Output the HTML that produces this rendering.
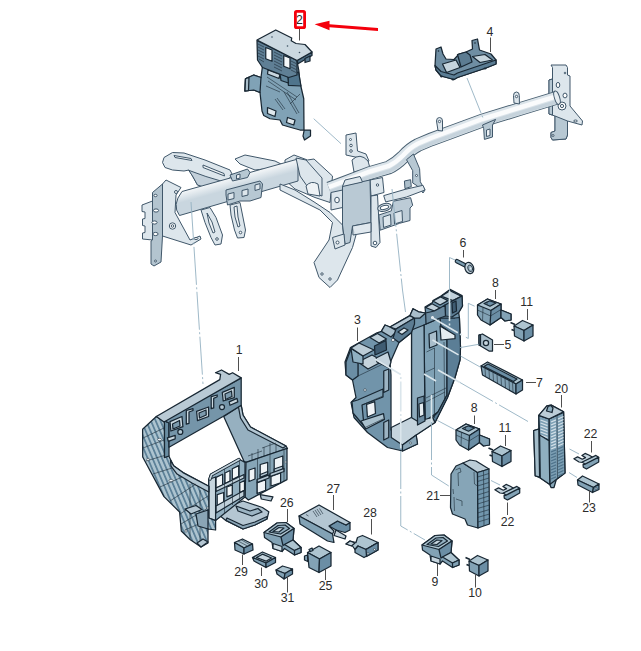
<!DOCTYPE html>
<html><head><meta charset="utf-8">
<style>
html,body{margin:0;padding:0;background:#fff;}
svg{display:block;}
text{font-family:"Liberation Sans",sans-serif;font-size:12.3px;fill:#2b2b2b;text-anchor:middle;}
.fo{stroke:#40576a;stroke-width:1;stroke-linejoin:round;}
.f1{fill:#dde6ec;}
.f2{fill:#b7c8d3;}
.f3{fill:#eef2f5;}
.o{stroke:#182733;stroke-width:1.25;stroke-linejoin:round;}
.d1{fill:#82a2b5;}
.d2{fill:#6b8ea5;}
.d3{fill:#adc4d0;}
.d4{fill:#c6d5de;}
.t{stroke:#1c2b37;stroke-width:.6;fill:none;}
.ld{stroke:#4f4f4f;stroke-width:1;fill:none;}
.dl{stroke:#94b1c2;stroke-width:.9;fill:none;stroke-dasharray:38 2.5 2 2.5;}
.wl{stroke:#dbe6ec;stroke-width:1.6;fill:none;stroke-dasharray:30 2.5 2 2.5;}
</style></head>
<body>
<svg width="641" height="651" viewBox="0 0 641 651">
<rect width="641" height="651" fill="#fff"/>
<defs>
<linearGradient id="gt" gradientUnits="userSpaceOnUse" x1="236" y1="164" x2="242" y2="186">
<stop offset="0" stop-color="#cfdbe3"/><stop offset=".35" stop-color="#fbfcfd"/><stop offset=".6" stop-color="#eef2f5"/><stop offset="1" stop-color="#c9d6df"/>
</linearGradient>
<pattern id="hz" width="4.400" height="8" patternUnits="userSpaceOnUse" patternTransform="rotate(-23)"><rect width="4.400" height="8" fill="#adc4d0"/><rect width="1.800" height="8" fill="#5d8198"/></pattern>
</defs>
<!--FRAME-->
<g id="frame">
<!-- upper arms -->
<path class="fo f1" d="M164 157.5L172.5 152.5L184 153L205 160L230 170L232.5 175L227.5 180L215 184L205 187.5L197.5 185L192.5 176L189 170L184 171L172.5 170L165 167.5L162.5 162.5Z"/>
<path class="fo" fill="#c3d0da" d="M188.700 170.300L205.900 176.500L221.500 181.200L216.800 183.500L205 187.500L197.500 185L192.500 176Z"/>
<path class="fo f3" d="M174 155.5L191 158.5L192 160.5L175 157.5Z M203 165L224 173.5L224.5 176L203 167.5Z"/>
<path class="fo f1" d="M235 159L245 155L275 161L283 165L272 168L255 170L240 164Z"/>
<!-- left end bracket -->
<path class="fo f1" d="M142 205L152.5 201L152.5 240L142.5 239L142.5 233L145 232.5L145 226L142.5 225.5L142.5 219L145 218.5L145 212L142 211.5Z"/>
<path class="fo f1" d="M162.5 184L166 180L171 182.5L181 187.5L176 195L175 212.5L190 240L200 236L201 239L191 245L162.5 236Z"/>
<path class="fo" fill="#b3c4cf" d="M152.5 192.5L162.5 184L162.5 236L161 262L154 266L151 264L151 241L152.5 240Z"/>
<g class="fo" fill="#fff"><ellipse cx="155.5" cy="195.5" rx="1.6" ry="1.2"/><ellipse cx="156" cy="210.5" rx="2.6" ry="1.6"/><ellipse cx="154.5" cy="222.5" rx="2.6" ry="1.6"/><ellipse cx="155.5" cy="234" rx="2.6" ry="1.6"/><circle cx="155.5" cy="261" r="1"/><circle cx="176" cy="192" r="1.5"/><circle cx="172.5" cy="226" r="3.2"/><circle cx="172.5" cy="226" r="1.3"/><ellipse cx="196" cy="238.5" rx="2" ry="1"/></g>
<!-- hangers -->
<path class="fo f1" d="M201 210L210 207.5L216 217.5L222.5 235L221 244L215 245L211 237.5L205 222.5Z"/>
<path class="fo f3" d="M207 213L212 222L215 232L213 233L209 223Z"/><circle class="fo" fill="#fff" cx="217" cy="239" r="1.3"/>
<path class="fo f1" d="M230 205L240 202.5L242.5 215L245.5 230L244 237.5L237.5 238L234.5 230L231 215Z"/>
<path class="fo f3" d="M234 207L237 206L238 217L240 226L238 227L235 217Z"/><circle class="fo" fill="#fff" cx="240.5" cy="232.5" r="1.3"/>
<!-- central casting -->
<path class="fo f1" d="M285 160L294 155L307.5 160L314 159L332.5 176L331 192.5L330 202.5L315 197.5L295 189L285 180Z"/>
<!-- left tube -->
<path class="fo" fill="url(#gt)" d="M182 191.500L298 159L298 181L179.500 215.500Q171.500 205 182 191.500Z"/>
<!-- small clip on top -->
<path class="fo f2" d="M230 175L247.5 169L250 172.5L247.5 177.5L232.5 181Z"/>
<path class="fo f3" d="M236.500 175L240 174L240 178L236.500 179Z"/>
<!-- clamp -->
<path class="fo f2" d="M226 190L260 181L262.5 184L261 197.5L250 201L240 201L227.5 205L226 195Z"/>
<path class="fo f1" d="M228 194L234 192.5L234 198.5L228 200Z M242 190.500L248 189L248 195L242 196.500Z M255 185L260 183.600L260 189L255 190.500Z"/>
<!-- big leg -->
<path class="fo f1" d="M280 184L295 190L315 202.5L330 212.5L342.5 225L344 240L352.5 229L356 235L352.5 247.5L337.5 280L330 287.5L319 277.5L314 262.5L329 240L332.500 222.500L320 210L295 197.500L280 190Z"/>
<!-- casting details -->
<path class="fo f1" d="M296 158L306 160L322 178L322 196L312 193L300 176Z"/>
<path class="fo f3" d="M306 186Q311 180 318 184L320 196L308 194Z"/>
<!-- upper tab -->
<path class="fo f1" d="M346 135L356 133L357.5 151L366 154L369 161L365 165L357.5 157.500L346 155Z"/>
<g class="fo" fill="#fff"><circle cx="350.500" cy="139.500" r="1"/><circle cx="351" cy="145.500" r="1.300"/><circle cx="351" cy="151" r="1.300"/></g>
<path class="fo f1" d="M352 160Q360 152 368 161L370 168L354 172Z"/>
<!-- right end bracket -->
<path class="fo f1" d="M551 65L566 65L567.500 67.500L567.500 75L570 76L570 106L582.500 121L582 125L567.500 121L567.500 135L566 139L552.500 140L551 137.500L551 132.500L555 131L555 116L549 114L549 80L552.500 79L552.500 67.500Z"/>
<path class="fo f2" d="M555 116L567.500 121L567.500 135L566 139L552.500 140L551 137.500L551 132.500L555 131Z"/>
<path class="fo f2" d="M549 80L552.500 79L552.500 115L549 114Z"/>
<g class="fo" fill="#fff"><ellipse cx="558" cy="85" rx="1.800" ry="2.600"/><ellipse cx="565" cy="95.500" rx="2" ry="2.400"/><circle cx="562" cy="106" r="4"/><circle cx="562" cy="106" r="1.600"/><ellipse cx="575.500" cy="121" rx="1.800" ry="1"/><circle cx="553" cy="135.500" r="1"/><circle cx="565" cy="73" r=".800"/></g>
<!-- right tube -->
<path d="M329 188.500L345 182.500L370 173L388.700 167.500Q396 164 403 157Q410 149 418 145L431 139.500L450 132.500L482.500 120.500L520 109L556 98" fill="none" stroke="#4a6172" stroke-width="13.800"/>
<path d="M329 188.500L345 182.500L370 173L388.700 167.500Q396 164 403 157Q410 149 418 145L431 139.500L450 132.500L482.500 120.500L520 109L557 97.700" fill="none" stroke="#dbe4ea" stroke-width="12"/>
<path d="M330 192L346 186L371 176.500L389.700 171Q397 167.500 404 160.500Q411 152.500 419 148.500L432 143L451 136L483.500 124L521 112.500L558 101.200" fill="none" stroke="#c6d3dc" stroke-width="3.600"/>
<path d="M329 187L345 181L370 171.500L388.700 166Q396 162.500 403 155.500Q410 147.500 418 143.500L431 138L450 131L482.500 119L520 107.500L557 96.200" fill="none" stroke="#fafbfc" stroke-width="4.500"/>
<ellipse class="fo" fill="#e6edf1" cx="557" cy="97.700" rx="2.600" ry="6.900" transform="rotate(-17 557 97.700)"/>
<!-- tabs on tube -->
<path class="fo f1" d="M436.500 121Q436.500 117.500 439.500 117.500Q442.500 117.500 442.500 121L442.500 131L438 130.500Z"/><circle class="fo" fill="#fff" cx="439.500" cy="121.500" r="1.200"/>
<path class="fo f1" d="M513.500 95.500Q513.500 92 516.500 92Q519.300 92 519.300 95.500L519.400 104L514 103Z"/><circle class="fo" fill="#fff" cx="516.500" cy="96.500" r="1.200"/>
<path class="fo f2" d="M482.500 125L495.600 119.400L492.500 125L492.500 137L484.400 139.400L483.700 128.700Z"/>
<path class="fo f3" d="M486.500 130L490 129L490 135.500L486.500 136.500Z"/>
<!-- strap -->
<path class="fo f2" d="M406.500 159.700L413.400 154L419.600 168.700L420.300 181.800L425 190L423 193L417.500 186L412.700 183L412.700 170.700Z"/>
<circle class="fo" fill="#fff" cx="416.500" cy="175.500" r="1"/>
<!-- central plates -->
<path class="fo f1" d="M331 192.500L342.500 190L342.500 207.500L331 210Z"/><ellipse class="fo" fill="#f4f7f9" cx="337" cy="200" rx="2.300" ry="2.800"/>
<path class="fo f1" d="M370 180L382.500 177.500L384 192.500L371 196Z"/><circle class="fo" fill="#fff" cx="377.500" cy="185" r="1.200"/>
<path class="fo" fill="#b9c9d4" d="M342.500 186L370 180L371 222.500L352.500 226L350 242.500L345 244L342.500 225Z"/>
<path class="fo f1" d="M345 180L360 176.500L362.500 182L342.500 186.500Z"/>
<path class="fo f1" d="M332.500 237.500L344 234L345 245L335 249Z"/><circle class="fo" fill="#fff" cx="337.500" cy="242.500" r="1.500"/>
<path class="fo f1" d="M371 196L377.500 195L380 242.500L376 247.500L371 246Z"/><circle class="fo" fill="#fff" cx="375" cy="243" r="1.800"/>
<path class="fo f1" d="M352.500 226L371 222.500L371 232L353 235Z" fill-opacity=".9"/>
<g class="fo" fill="#fff"><circle cx="322" cy="274" r="1.200"/><circle cx="330" cy="279" r="1.200"/></g>
<!-- right sub bracket -->
<path class="fo" fill="#bccbd6" d="M393.400 201.200L410.600 197.700L412.700 205.300L410 208L410 220.500L399.600 223.300L380.200 230.200L378.800 215L391.300 210.900Z"/>
<path class="fo f1" d="M383 217L390.500 214.500L391 225L383.500 227.500Z M394 213L402 210.500L402.500 221.500L394.500 224Z"/>
<path class="fo f1" d="M383.700 195.600L405 189.400L423 185.300L425 190L406.500 197L385.700 201.900Z"/>
<ellipse class="fo f1" cx="384.500" cy="207.400" rx="7" ry="3.800" transform="rotate(-15 384.500 207.400)"/><ellipse class="fo" fill="#fff" cx="384.500" cy="207.400" rx="4.300" ry="1.900" transform="rotate(-15 384.500 207.400)"/>
<path class="fo" fill="#adbfcb" d="M404.400 181L410.600 179.700L411.300 186.600L405 188.700Z"/>
</g>
<!--PART2-->
<g id="p2">
<!-- back plate -->
<path class="o" fill="#80a2b6" d="M262.500 66L261 77.500L253.750 75L245.500 78.750L245 91L253.750 90L260 92.500L262 111L263.750 115.500L270 118.750L280 120L282.500 125L291 127.500L300 130L310.500 130L310.500 136L304.500 140L303 136L304 131L303.750 98.750L300 82.500L298.750 70L297 61Z"/>
<path class="o" fill="#80a2b6" d="M245.500 78.750L253.750 75L261 77.500L260 92.500L253.750 90L245 91Z"/>
<path class="o" fill="#a9beca" d="M245.500 78.750L249 77.300L248.500 90.600L245 91Z"/>
<!-- bottom openings -->
<path class="o" fill="#dfe8ed" d="M267.500 107.500L276 111L275 116.500L267.500 113.500Z M287.500 117.500L295 120L293.750 125L286.500 122.500Z"/>
<!-- embossed lines -->
<path class="t" d="M267 77L297 97 M268 81L296 100 M275 99L283 110 M277 98L285 109 M284 92L297 114 M287 92L299 113 M266 86L280 92 M290 104L300 94"/>
<path class="o" fill="#c8d6df" d="M268 70L280 74.500L279 78.500L267.500 74Z"/>
<path class="o" fill="#4f748c" d="M287.700 75.400L298.500 72L301 86L288.400 85.300Z"/>
<path class="o" fill="#5f849b" d="M280 74L287.700 75.400L288.400 83L281 80.500Z"/>
<!-- front face -->
<path class="o" fill="#5f7f95" d="M257 40.500L297 60.500L297 75L288.750 77.500L262.500 67.500L257.500 60Z"/>
<path class="o" fill="#f6f9fa" d="M265.750 47.500L272 50L272 61.250L265.750 58.750Z M283.750 55.500L290 58L290 68.750L283.750 66.250Z"/>
<path class="t" d="M258 44L264 47 M258 47L264 50 M258 50L264 53 M258 53L264 56 M258 56L264 59 M259 59L264 62 M274 52L282 56 M274 55L282 59 M274 58L282 62 M274 61L282 65 M274 64L282 68 M274 67L282 71 M291 61L296 63.500 M291 64L296 66.500 M291 67L296 69.500 M291 70L296 72.500"/>
<!-- top plate thickness -->
<path class="o" fill="#4f6e84" d="M312 52L312 55.500L298 63.750L297 60.500Z"/>
<path class="o" fill="#5c7c92" d="M305 58.500L310 56L310 61L305 62.500Z"/>
<!-- top plate -->
<path class="o" fill="#cbd8e0" d="M257 40L275.750 30L291.750 38L291.250 40.750L296 43.500L305 44.500L312 52L297 60.500Z"/>
<g fill="#3a4f60"><circle cx="272" cy="37" r=".800"/><circle cx="287.500" cy="46" r=".800"/><circle cx="299.500" cy="52.500" r=".800"/></g>
</g>
<!--PART4-->
<g id="p4">
<path class="o" fill="#6f8ea3" d="M435 65.500L436 49L441 47L443 54L446 59L454 59.500L459 54L466 52L472.500 49L472 40.500L477.500 39L479.500 50L491 54L496 60L496 64L486 68L457.500 77.500L454 79.500L441 76L436 70Z"/>
<path class="o" fill="#c5d4dd" d="M442.500 64L456 60L460 67.500L446.500 72.500Z M472.500 56.500L485 54.500L492.500 60L480 62.500Z"/>
<path class="o" fill="#5b7d94" d="M435 65.500L441 71.500L454 75L457.500 73L496 60L496 64L486 68L457.500 77.500L454 79.500L441 76L436 70Z"/>
<path class="o" fill="#5c7c92" d="M457.500 54.500L466 52L470 55L472 62L461 67Z"/>
<g fill="#182733"><circle cx="438.500" cy="51" r=".800"/><circle cx="475" cy="43" r=".800"/><ellipse cx="453" cy="79.500" rx="1.500" ry="1"/><ellipse cx="485" cy="68.500" rx="1.500" ry="1"/><ellipse cx="441.500" cy="76.500" rx="1.300" ry="1"/></g>
</g>
<!--PART1-->
<g id="p1">
<!-- bottom tray -->
<path class="o" fill="#b4c6d2" d="M215 511.800L243 501L262.400 507.500L268.800 511.800L267 519L255 525L243 529L225.800 520.400Z"/>
<path class="o" fill="#8aa5b6" d="M225.800 520.400L243 529L255 525L267 519L267 516.500L255 522L243 525.500L227 518Z"/>
<path class="o" fill="#b4c6d2" d="M260.200 494.600L273 496.800L271 501L261.300 499Z"/>
<path class="o" fill="#9cb4c3" d="M236 506L250 511L258 508.500L262 512L252 516L238 511Z"/>
<!-- arm -->
<path class="o" fill="#96b0c0" d="M223.700 416.500L241.200 405.300L243 415L250.500 427L286 446L287.500 448.500L246 462.400L244 461.300Z"/>
<path class="o" fill="#b4c7d3" d="M241.200 405.300L243 415L250.500 427L286 446L283 448L248 430L240.500 418L238.500 407Z"/>
<!-- grid box right face -->
<path class="o" fill="#86a5b7" d="M246 462.400L287 448.400L287 479.600L248.400 500L245 497Z"/>
<path class="o" fill="#f0f4f7" d="M260.200 464.500L267.700 462.400L267.700 474.200L260.200 477.400Z M274.200 459L282.800 456L282.800 468.800L274.200 472Z M257 482.800L265.600 479.600L265.600 490.300L257 493.500Z M271 476.300L280.600 473L280.600 482.800L271 486Z M249 470L255 468L255 479L249 481.500Z"/>
<path class="o" fill="#b4c6d2" d="M257 479.500L269 475L269 478L257 482.500Z M270 473.500L284 468.500L284 471.500L270 476.500Z M260.200 474.500L267.700 471.500L267.700 474.200L260.200 477.400Z M274.200 469L282.800 466L282.800 468.800L274.200 472Z"/>
<path class="t" d="M257.500 458.500L257.500 495 M270 454.500L270 488.500 M284 450L284 481"/>
<circle cx="285.500" cy="462" r=".900" fill="#e9eff3" stroke="#182733" stroke-width=".4"/>
<!-- grid box front-left face -->
<path class="o" fill="#92afc0" d="M208.800 479.500L210.500 474.300L238.700 459L245 462.400L245 497L215.600 520.600L208.800 518Z"/>
<path class="o" fill="#f2f6f8" d="M216 477.400L222.600 474.200L222.600 485L216 488Z M232.300 468.800L238.700 465.600L238.700 476.300L232.300 479.600Z M217.200 494.600L223.700 492.500L223.700 504.300L217.200 507.500Z M226.900 487L232.300 485L232.300 494.600L226.900 496.800Z M239.800 482.800L244.500 480.600L244.500 490.300L239.800 492.500Z M225 473L230 470.500L230 481L225 483.500Z"/>
<path class="o" fill="#c0d0da" d="M216 488L244 474.500L244 478L216 491.500Z M216 506L244 490.500L244 496L216 513Z"/>
<path class="t" d="M224.500 468L224.500 513 M239.500 461L239.500 500 M232.500 481L232.500 505"/>
<path class="o" fill="#c6d5de" d="M208.800 479.500L215.600 477L215.600 520.600L208.800 518Z"/>
<path d="M210 479L211.500 474.800L239 459.500" fill="none" stroke="#182733" stroke-width="3.400" stroke-linecap="round"/>
<path d="M210 479L211.500 474.800L239 459.500" fill="none" stroke="#c6d5de" stroke-width="1.700" stroke-linecap="round"/>
<!-- top of grid box: ribs -->
<path class="t" d="M252 453L252 460 M258 449L258 458 M264 447L264 456 M270 443L270 454 M276 445L276 452 M248 456L262 451 M262 448L276 443"/>
<!-- left side -->
<path class="o" fill="url(#hz)" d="M142.600 429.300L156.300 416.500L164.500 421L164.500 457.500L169 456L169.300 457L173.600 465.700L183 472.600L208.800 486.300L208.800 518L215.600 520.600L215.600 530L208 529L208 543L201 547L190 539.500L181.300 531L179.600 512L164 496.600L142.700 457Z"/>
<path class="o" fill="#b4c7d3" d="M170.500 460L173.600 465.700L183 472.600L208.800 486.300L208.800 492L192 483L177 474L171 466Z"/>
<path class="t" d="M143 438L164 428 M143 448L164 440 M146 461L166 455 M153 474L172 468 M160 487L182 477 M170 501L196 484 M180 514L208 496 M181 524L208 508 M185 530L208 520 M190 484L190 539 M200 490L200 546"/>
<g fill="#e9eff3" stroke="#182733" stroke-width=".5"><circle cx="148" cy="459.500" r="1.300"/><ellipse cx="159.500" cy="439.500" rx="2" ry="1.200"/><circle cx="207.500" cy="508" r="1"/><circle cx="186" cy="531" r="1.200"/><ellipse cx="171" cy="480.500" rx="2" ry="1.200"/></g>
<path class="o" fill="#b4c6d2" d="M185 509L196 505.500L202 509.500L191 514Z M197 543L203 539L208 542L201 547Z"/>
<path class="o" fill="#8aa5b6" d="M196 514L208 510L208 529L198 526Z"/>
<path class="o" fill="#6b8ea3" d="M164.500 421L169 423L169 456L164.500 457.500Z"/>
<!-- top bar front face -->
<path class="o" fill="#7595a9" d="M169 423L164 420.500L241.200 377.900L241.200 405.300L223 416.500L169 447.300Z"/>
<path class="o" fill="#c9d7df" d="M170 421.600L182 416.500L182.900 426.700L170.900 431Z M196.600 411.300L208.600 407L208.600 416.500L197.500 420.700Z M222.300 392.400L234.300 387.300L234.300 397.600L223.200 401Z"/>
<path class="o" fill="#7d9bae" d="M172.500 424L179.500 420.500L180 426L173 429Z M199 413L206 410L206.250 415L199.500 418Z M225 394L231.500 391L232 396.500L225.500 399.500Z"/>
<path class="o" fill="#c9d7df" d="M167.400 437.900L175.200 435.300L175.200 438.800L168.300 441.300Z M229.200 401.900L237 398.400L237.800 401.900L230 405.300Z"/>
<g class="o" fill="#b4c7d3"><circle cx="180.300" cy="431.900" r="2.500"/><circle cx="222" cy="407" r="2.500"/></g>
<path class="o" fill="#c9d7df" d="M186.300 410.500L193 408.700L193 410.500L189 412L189 423.300L186.300 424.200Z M211.200 396.700L217.200 395L217.200 396.700L213.700 398.400L213.700 407.900L211.200 408.700Z"/>
<!-- top light surface -->
<path class="o" fill="#b9cad5" d="M156.300 416.500L219.800 379.600L220.600 374.400L215.500 372.700L221.500 370L229.200 374.400L232.600 372.700L241.200 377.900L164 422Z"/>
</g>
<!--PART3-->
<g id="p3">
<!-- silhouette -->
<path class="o" fill="#7194aa" d="M345 362L350.500 347.500L359 342.700L377 332.800L381.400 331.400L385 325L390 327L410 315.600L413 308.700L418.600 311.800L425.600 313L425 307L432.500 302.500L433 300.600L441 296L450 289.400L462 295.600L462.500 306L458.700 312.500L459.400 317.500L460.500 347.500L460 360L455 377.500L447.500 397.500L440 412.500L435 422.500L416 435L417.500 444L402.500 451L387.500 447.500L367.500 432.500L354 417.500L351 402.500L356 397.500L352.500 380L346 375Z"/>
<!-- right inner lighter region -->
<path class="o" fill="#7fa1b5" d="M424 325L440 318L441 326L447 330L447 395L438 412L425 421Z"/>
<path class="o" fill="#5b7e96" d="M447 330L441 326L440 318L455 318L459.400 317.500L460.500 347.500L460 360L455 377.500L447.500 397.500L440 412.500L435 422.500L432.500 417.500L438 412L447 395Z"/>
<path class="o" fill="#e4ecf0" d="M440 326L455 335L455 338.700L441 340Z"/>
<path d="M423.500 366L423.500 389" stroke="#fff" stroke-width="2.200" fill="none"/>
<path class="o" fill="#a9becb" d="M429 334L436.500 331L437 345L429.500 348Z"/>
<path class="t" d="M426.500 352L434.500 348L434.500 418 M444 342L444.500 400 M426 372L434.500 368 M426 398L446 388 M426 402L445 392"/>
<!-- center bar -->
<path class="o" fill="#8dabbd" d="M411.500 330L424 325L425 421L417.500 425L411.500 421Z"/>
<!-- window (white) -->
<path class="o" fill="#fff" d="M399 342.500L411.500 332.500L411.500 421L391 430L391 375L390 363Z"/>
<!-- floor -->
<path class="o" fill="#c5d4dd" d="M391.250 427.500L411.250 417.500L417.500 421.250L432.500 417.500L435 422.500L416.250 435L402.500 445L391.250 437.500Z"/>
<path class="o" fill="#8ba7b8" d="M402.500 445L416.250 435L417.500 444L402.500 451Z"/>
<circle cx="410.500" cy="443" r="1" fill="#e4ecf0" stroke="#182733" stroke-width=".5"/>
<path class="o" fill="#6b8a9f" d="M417.500 398L424 396L425 421L417.500 425Z"/>
<path class="o" fill="#e4ecf0" d="M419 404L423.500 402.500L424 415L419.500 417Z"/>
<!-- left block features -->
<path class="o" fill="#9cb4c3" d="M383.750 371L388.750 369L388.750 390L383.750 392.500Z M383.750 422.500L388.750 420L388.750 437.500L383.750 440Z"/>
<path class="o" fill="#f0f4f7" d="M366.600 404.500L374.700 401.600L375.500 413.500L367.400 417Z"/>
<circle cx="365" cy="390" r="1.300" fill="#e4ecf0" stroke="#182733" stroke-width=".5"/>
<path class="o" fill="#7d9eb2" d="M357.700 400L383 389L383 397L362 405L364 426L353 413L352 401.600Z"/>
<path class="o" fill="#a9c0cd" d="M361 421L383.500 413.700L384.400 419.400L365.800 429Z"/>
<path class="t" d="M352.500 380L358 376L383 364 M358 353L358 376 M362 405L383 396 M364 428L383 419"/>
<path class="o" fill="#c5d4dd" d="M358 362L372 355L383 361L368 369Z"/>
<path class="o" fill="#6b8ea5" d="M346 362L351 349L358 353L358 376L352.500 380L346 375Z"/>
<path class="o" fill="#8fb0c2" d="M351 348.500L363 356L363 364L353 362Z"/>
<!-- left shoulder top faces -->
<path class="o" fill="#bccdd7" d="M351 348L359 343L374 350L363 356Z"/>
<path class="o" fill="#bccdd7" d="M370 337.500L377.500 333.500L386.500 339L379 343Z"/>
<path class="o" fill="#a9becb" d="M381.400 331.400L385 325L390 327L397 331L391 337Z"/>
<path class="o" fill="#3f5c72" d="M374.500 346L386 340.500L386.500 350L375 355Z"/>
<path class="o" fill="#c5d4dd" d="M376 358L388 352L391 362L389 368L377 362Z"/>
<!-- top beam -->
<path class="o" fill="#b4c6d2" d="M390 327L410 315.600L414.500 318L396 329Z"/>
<path class="o" fill="#5c7c92" d="M396 329L414.500 318L414.500 324L411.500 332.500L399 342.500L393 338Z"/>
<path class="o" fill="#dce6eb" d="M398 332L404 328L408 330L402 334.500Z"/>
<circle cx="393" cy="340" r="1.600" fill="#f0f4f7" stroke="#182733" stroke-width=".5"/>
<path class="o" fill="#a9becb" d="M410 315.600L413 308.700L418.600 311.800L425.600 313L420 318L414.500 318Z"/>
<!-- top right blocks -->
<path class="o" fill="#c1d1db" d="M441.200 296.200L450 290.600L461.200 296.200L453 300.600Z"/>
<path class="o" fill="#c1d1db" d="M433 301L440.600 297L448 300.600L440 305Z"/>
<path class="o" fill="#c1d1db" d="M425.600 307.500L432 303.700L440 308L434.400 311Z"/>
<path class="o" fill="#5c7c92" d="M453 300.600L462 296L462.500 306L458.700 312.500L452 317L445.500 316L445 305Z"/>
<path class="o" fill="#3f5c72" d="M452 303L456 301L456.500 311L452.500 313Z"/>
<path class="o" fill="#6b8a9f" d="M425.600 313L434.400 311L440 308L445 305L445.500 316L440 318L426 324Z"/>
<circle cx="432.500" cy="317.500" r="1.500" fill="#f4f7f9"/>
</g>
<!--SMALL-->
<g id="small">
<defs>
<g id="rel8">
<path class="o d1" d="M477.500 305L487.500 299L501 304L501 310L511 314L511 320L505 321L501 317.500L490 325L481 320L477.500 315Z"/>
<path class="o d3" d="M477.500 305L487.500 299L501 304L491 310.500Z"/>
<path class="o d2" d="M491 310.500L501 304L501 317.500L490 325Z"/>
<path class="o d1" d="M501 310L511 314L511 320L505 321L501 317.500Z"/>
<path class="o d2" d="M484 303.500L490 300.800L496 303L490 306.200Z"/>
<path class="t" d="M477.500 310L490.500 316L501 309.500 M483 307.500L482.500 321 M487 301.500L487 305"/>
</g>
<g id="cube">
<path class="o d3" d="M514 326L522.500 320.500L533 325L524 330.500Z"/>
<path class="o d1" d="M514 326L524 330.500L524 341L514.500 336Z"/>
<path class="o d2" d="M524 330.500L533 325L533 336L524 341Z"/>
<path d="M510.500 322.500L515 324.500M511.500 329.500L514 330.500" stroke="#182733" stroke-width="1.600" fill="none"/>
</g>
<g id="fuse">
<path class="o d4" d="M573.900 458.700L577.600 456.900L582.300 459.200L585.500 457.600L581.900 455.500L585.100 453.400L589.300 455.200L593 457.500L582.300 462.500L579 462Z"/>
<path class="o d3" d="M582.300 462L595.900 455.400L598.700 457.300L585 464.300Z"/>
<path class="o d1" d="M583 464.500L585 464.300L598.700 457.300L598.700 462L586.500 469L583.300 467.200Z"/>
</g>
<g id="conn9">
<path class="o d1" d="M422 545L435 535.500L444 535L452 541L451 552.500L459 560L459 565L452.500 567.500L442.500 561L440 564L431 561L430 555L422.500 550Z"/>
<path class="o d3" d="M422 545L435 535.500L444 535L452 541L439 549.500Z"/>
<path class="o" fill="#93b0c1" d="M427 544.500L436 538L443 537.500L447.500 541L438.500 546.500Z"/>
<path class="o d4" d="M431 544L437 540L442 540.500L437 544.500Z"/>
<path class="o d2" d="M439 549.500L452 541L451 552.500L441 558Z"/>
<path class="o d3" d="M442.500 557L451 552.500L459 560L452.500 563Z"/>
<path class="o d1" d="M452.500 563L459 560L459 565L452.500 567.500Z"/>
<path class="o d4" d="M431 556L440 559L440 564L431 561Z"/>
</g>
</defs>
<!-- 6 screw -->
<path d="M457 261.200L466 265.800" stroke="#182733" stroke-width="4.600" fill="none" stroke-linecap="round"/>
<path d="M457 261.200L466 265.800" stroke="#7a9cb0" stroke-width="2.400" fill="none" stroke-linecap="round" stroke-dasharray="1.300 .900"/>
<ellipse class="o" fill="#c1d1db" cx="469.300" cy="268" rx="4.300" ry="5.800" transform="rotate(-18 469.300 268)"/>
<ellipse cx="470.200" cy="268.300" rx="2.300" ry="3.300" transform="rotate(-18 470.200 268.300)" fill="#9db5c4" stroke="#182733" stroke-width=".800"/>
<circle cx="470.600" cy="268.500" r=".900" fill="#e4ecf0"/>
<!-- 8 -->
<use href="#rel8"/>
<use href="#rel8" transform="translate(-21.500 125)"/>
<!-- 11 / 10 -->
<use href="#cube"/>
<use href="#cube" transform="translate(-22 125.500)"/>
<use href="#cube" transform="translate(-45 235)"/>
<!-- 25 -->
<path class="o d3" d="M307.500 552.500L319 546L331 552.500L319.500 559Z"/>
<path class="o d1" d="M307.500 552.500L319.500 559L319 572.500L309 567.500Z"/>
<path class="o d2" d="M319.500 559L331 552.500L331 566L319 572.500Z"/>
<path class="o d1" d="M304.500 556L307.500 555L307.800 561.500L304.500 560Z M309 549.500L312 548L313 550.500L310.500 551.500Z"/>
<!-- 5 -->
<path class="o" fill="#a9becb" d="M479 335L482.500 334L492.500 340L492.500 351L489 351L479 345Z"/>
<path class="o d1" d="M479 335L480.500 334.600L480.500 345.500L479 345Z"/>
<circle class="o" fill="#c6d5de" cx="486" cy="343" r="2.600"/>
<!-- 7 -->
<path class="o d3" d="M481 366L487.500 362L522.500 380L516 384Z"/>
<path class="o d2" d="M484 366.500L488 364L517 379L513.500 381.500Z"/>
<path class="o d1" d="M481 366L516 384L516 394L482.500 375Z"/>
<path class="o d2" d="M516 384L522.500 380L522.500 390L516 394Z"/>
<path class="t" d="M485 368.500L485.500 376.500 M489 370.500L489.500 379 M493 372.500L493.500 381 M497 374.500L497.500 383.500 M501 376.500L501.500 385.500 M505 378.500L505.500 388 M509 380.500L509.500 390 M512.500 382.500L513 392"/>
<!-- 20 -->
<path class="o" fill="#88a8ba" d="M533.700 430.600L538.800 429L538.800 415.300L546.900 405.800L551.200 405.100L563.600 411.700L565 473L556.300 479.500L554 487.500L551 487.500L549.800 484.500L540.300 478L535.200 475.800Z"/>
<path class="o" fill="#7c9fb4" d="M549 419L563.600 412.400L565 473L556.300 479.500L549.800 484.500Z"/>
<path d="M551 422.0L556 419.8 M558 419.0L563.500 416.5 M551 425.0L556 422.8 M558 422.0L563.500 419.5 M551 428.0L556 425.8 M558 425.0L563.500 422.5 M551 431.0L556 428.8 M558 428.0L563.500 425.5 M551 434.0L556 431.8 M558 431.0L563.500 428.5 M551 437.0L556 434.8 M558 434.0L563.500 431.5 M551 440.0L556 437.8 M558 437.0L563.500 434.5 M551 443.0L556 440.8 M558 440.0L563.500 437.5 M551 446.0L556 443.8 M558 443.0L563.500 440.5 M551 449.0L556 446.8 M558 446.0L563.500 443.5 " stroke="#d3e0e8" stroke-width="1.300" fill="none"/>
<path d="M551 452.0L556 449.8 M558 449.0L563.500 446.5 M551 455.0L556 452.8 M558 452.0L563.500 449.5 M551 458.0L556 455.8 M558 455.0L563.500 452.5 M551 461.0L556 458.8 M558 458.0L563.500 455.5 M551 464.0L556 461.8 M558 461.0L563.500 458.5 M551 467.0L556 464.8 M558 464.0L563.500 461.5 M551 470.0L556 467.8 M558 467.0L563.500 464.5 M551 473.0L556 470.8 M558 470.0L563.500 467.5 M551 476.0L556 473.8 M558 473.0L563.500 470.5 M551 479.0L556 476.8 M558 476.0L563.500 473.5 " stroke="#4f738b" stroke-width="1.300" fill="none"/>
<path class="o" fill="#7c9fb4" d="M538.800 415.300L549 419L549 440.800L539.600 435Z"/>
<path d="M540.500 420.0L547.500 422.6 M540.500 423.0L547.500 425.6 M540.500 426.0L547.500 428.6 M540.500 429.0L547.500 431.6 M540.500 432.0L547.500 434.6 M540.500 435.0L547.500 437.6 " stroke="#d3e0e8" stroke-width="1.200" fill="none"/>
<path class="o" fill="#bccdd7" d="M538.800 415.300L546.900 405.800L551.200 405.100L563.600 411.700L549 419Z"/>
<path class="o" fill="#8fafc0" d="M546.500 411L548 406.500L551 405.500L553 408L552 412.500Z"/>
<path class="o" fill="#a4bdca" d="M533.700 430.600L538.800 429L539.600 477L535.200 475.800Z"/>
<path class="o" fill="#8fafc0" d="M539.600 435L549 440.800L549.800 484.500L540.300 478Z"/>
<path class="t" d="M557 415.500L557.500 478.500"/>
<!-- 21 -->
<path class="o" fill="#86a5b7" d="M451 474L456 466L463 463L477.500 472.500L478 528L467.500 525L465 519L452.500 514L450.500 507.500Z"/>
<path class="o" fill="#bccdd7" d="M463 463L470 460L476 461L489 469L477.500 472.500Z"/>
<path class="o" fill="#7196ad" d="M477.500 472.500L489 469L489.500 524L478 528Z"/>
<path class="t" d="M483.500 470.500L484 526 M477.500 477L489 473.500 M477.500 481.500L489 478 M477.500 486L489 482.500 M477.500 490.500L489 487 M477.500 495L489 491.500 M477.500 499.500L489 496 M477.500 504L489 500.500 M477.500 508.500L489.500 505 M477.500 513L489.500 509.500 M477.500 517.500L489.500 514 M478 522L489.500 518.500 M455.500 470L460 468L461 472L458 473L458.500 486 M474 472L474.500 484L477.500 486 M454 497L454.500 511 M456 499L462 501L462 506 M453 489L453.500 494"/>
<!-- 22 -->
<use href="#fuse"/>
<use href="#fuse" transform="translate(-79 31)"/>
<!-- 23 -->
<path class="o d3" d="M577.500 480L582.500 476L599 484L593.500 487.500Z"/>
<path class="o d1" d="M577.500 480L593.500 487.500L592.500 492.500L578 485Z"/>
<path class="o d2" d="M593.500 487.500L599 484L599 489.500L592.500 492.500Z"/>
<circle cx="596" cy="488.500" r="1" fill="#c6d5de" stroke="#182733" stroke-width=".5"/>
<!-- 9 / 26 -->
<use href="#conn9"/>
<use href="#conn9" transform="translate(-158 -12.500)"/>
<!-- 27 -->
<path class="o d2" d="M337.500 521L346 525L350 522.500L350 530L345 532.500L336 530L329 526Z"/>
<path class="o d4" d="M336 530L346 536L345 539L334 535.500Z"/>
<path class="o" fill="#b4c6d2" d="M299 516L319 505L350 522.500L346 525L337.500 521L329 526L334 531L332.500 534Z"/>
<path class="o d1" d="M299 516L332.500 534L334 542.500L327.500 541L300 524Z"/>
<path class="t" d="M306 514.500L308.500 516 M313 511L317 517M315 510L319 516M317 509L321 515M319.500 508.500L323 514"/>
<!-- 28 -->
<path class="o d3" d="M346 544L350 541L356 542.500L357.500 537.500L362.500 535.500L378 542.500L366 549.500L358 546L355 549.500L352.500 546Z"/>
<path class="o d1" d="M355 549.500L358 546L366 549.500L378 542.500L378 550L364 557.500L355 552.500Z"/>
<path class="o d2" d="M366 549.500L378 542.500L378 550L366.500 556.500Z"/>
<path class="o d4" d="M346 544L350 541L355 543L351.500 546Z"/>
<g fill="#e4ecf0" stroke="#182733" stroke-width=".5"><circle cx="368" cy="553.500" r="1"/><circle cx="374.500" cy="549.500" r="1"/></g>
<!-- 29 -->
<path class="o d3" d="M234.500 542.500L242.500 539L252.500 544L244 548Z"/>
<path class="o d1" d="M234.500 542.500L244 548L244 554L235 550Z"/>
<path class="o d2" d="M244 548L252.500 544L253 550L244 554Z"/>
<path class="t" d="M238 541L247.500 546 M241 539.700L250 544.800"/>
<!-- 30 -->
<path class="o d3" d="M252.500 557.500L262.500 552L275.500 557.500L266 563Z"/>
<path class="o d4" d="M256.500 557.500L262.500 554.200L271.500 558L266 561.200Z"/>
<path class="o d1" d="M252.500 557.500L266 563L266 567.500L254 561Z"/>
<path class="o d2" d="M266 563L275.500 557.500L275.500 562.500L266 567.500Z"/>
<!-- 31 -->
<path class="o d3" d="M276 570L282.500 566L292.500 569L285 573.500Z"/>
<path class="o d1" d="M276 570L285 573.500L284 579L277 574Z"/>
<path class="o d2" d="M285 573.500L292.500 569L292.500 574L284 579Z"/>
</g>
<!--LINES-->
<g id="lines">
<path class="dl" d="M313.700 118.700L341 143.700 M467 78L483 118 M191 202L203 384 M392 189L402.500 290L405.500 312 M449.500 257.500L455 260 M449.500 257.500L449.500 291 M468.300 303.300L474.600 306.200 M468.300 303.300L468.300 338.500L463.500 336 M460 347.600L478.800 344.300 M460.500 356L481 367.500 M460 382.500L528 421.500 M437.500 420.500L454.500 429.500 M431.500 422L431.500 475L448.750 486 M400.750 451L400.750 526L425 540 M491 480.500L500 485 M569.500 449L579 454 M569 472.500L577 477.500"/>
<path class="wl" d="M449.500 291L449.500 326 M432 317.500L463.500 336 M432.500 340L460.500 356 M438 370L460 382.500 M424 374L436 381 M375 359L400.750 374.500L400.750 451 M431.500 395L431.500 422"/>
</g>
<!--LABELS-->
<g id="labels">
<rect x="295.4" y="11.4" width="9.2" height="16.2" rx="1.2" fill="#fff" stroke="#f4000c" stroke-width="2.8"/>
<path d="M314.6 24.3L329.5 20.8L329.5 24.3L378 28L378 31L329.5 27.3L329.5 30.2Z" fill="#f4000c"/>
<path class="ld" d="M299.5 29L299.5 40.5M490.5 37.5L490.5 52M463.5 250L463.5 257.5M495.5 290L495.5 299M527.5 309L527.5 320M494 344.5L504 344.5M526 382.5L536 382.5M561.5 395L561.5 407.5M357.5 327.5L357.5 341M238.5 357L238.5 371M474.5 415.5L474.5 424M505.5 435L505.5 446M591.5 441L591.5 452.5M589.5 490L589.5 502.5M440 495.5L450 495.5M507.5 502.5L507.5 515M437.5 564L437.5 576M475.5 575L475.5 587.5M287.5 509L287.5 522M333.5 495L333.5 510M371.5 519L371.5 534.5M325.5 569L325.5 580M242.5 554.5L242.5 565M261.5 567.5L261.5 576M287.5 576L287.5 592.5"/>
<text x="299.5" y="24.1">2</text>
<text x="490" y="36">4</text>
<text x="463" y="247">6</text>
<text x="495.5" y="286.5">8</text>
<text x="526.75" y="306">11</text>
<text x="508" y="348.5">5</text>
<text x="539.5" y="387">7</text>
<text x="561.25" y="393">20</text>
<text x="357.400" y="323.600">3</text>
<text x="239.100" y="354.300">1</text>
<text x="474.25" y="412">8</text>
<text x="505" y="432">11</text>
<text x="590.5" y="438">22</text>
<text x="589" y="512">23</text>
<text x="433" y="500">21</text>
<text x="507.5" y="526">22</text>
<text x="435" y="586">9</text>
<text x="475" y="597">10</text>
<text x="286.75" y="507">26</text>
<text x="333.25" y="493">27</text>
<text x="370" y="517">28</text>
<text x="325.5" y="590">25</text>
<text x="241" y="575.600">29</text>
<text x="261" y="588">30</text>
<text x="287.5" y="602">31</text>
</g>
</svg>
</body></html>
